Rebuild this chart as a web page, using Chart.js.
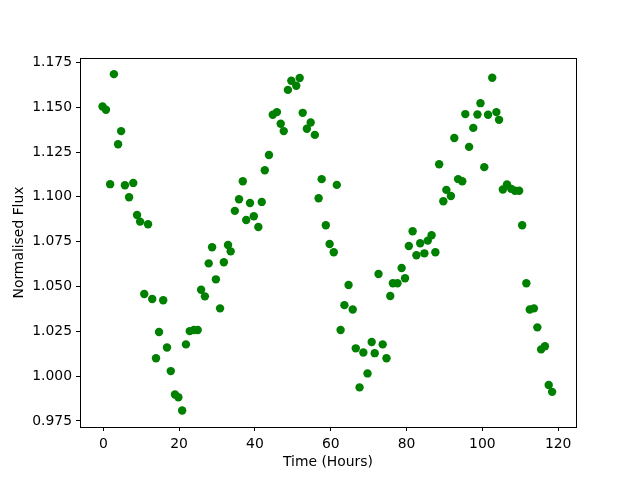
<!DOCTYPE html>
<html>
<head>
<meta charset="utf-8">
<script src="https://cdn.jsdelivr.net/npm/chart.js@4/dist/chart.umd.min.js"></script>
<style>
  html, body { margin: 0; padding: 0; background: #fff; }
  #wrap { width: 640px; height: 480px; }
</style>
</head>
<body>
<div id="wrap"><canvas id="scatter-chart" width="640" height="480"></canvas></div>
<script>
// time in hours
var hours = [-0.2,0.7,1.8,2.8,3.9,4.7,5.7,6.8,7.9,8.9,9.7,10.8,11.8,12.9,13.9,14.7,15.8,16.8,17.8,18.9,
  19.8,20.8,21.8,22.8,23.9,24.9,25.8,26.8,27.8,28.7,29.7,30.8,31.8,32.9,33.6,34.7,35.8,36.8,37.7,38.7,
  39.7,40.9,41.8,42.6,43.7,44.7,45.8,46.8,47.6,48.7,49.6,50.9,51.8,52.6,53.7,54.7,55.8,56.8,57.6,58.7,
  59.7,60.8,61.6,62.6,63.6,64.7,65.8,66.6,67.6,68.6,69.7,70.8,71.6,72.6,73.7,74.7,75.7,76.4,77.6,78.7,
  79.6,80.6,81.6,82.6,83.6,84.7,85.6,86.6,87.6,88.6,89.7,90.5,91.7,92.6,93.6,94.7,95.5,96.5,97.6,98.7,
  99.5,100.5,101.5,102.6,103.7,104.4,105.4,106.5,107.6,108.6,109.7,110.5,111.6,112.5,113.6,114.5,115.5,116.5,117.5,118.4];

// normalised flux
var flux = [1.1504,1.1486,1.1071,1.1685,1.1294,1.1367,1.1065,1.0998,1.1078,1.0899,1.0862,1.0458,1.0847,1.0430,1.0100,1.0246,1.0423,1.0160,1.0028,0.9897,
  0.9882,0.9808,1.0177,1.0251,1.0257,1.0257,1.0482,1.0445,1.0629,1.0719,1.0540,1.0378,1.0635,1.0732,1.0696,1.0922,1.0987,1.1087,1.0871,1.0966,
  1.0892,1.0832,1.0972,1.1149,1.1234,1.1458,1.1473,1.1408,1.1367,1.1597,1.1648,1.1620,1.1663,1.1469,1.1380,1.1415,1.1346,1.0992,1.1099,1.0842,
  1.0737,1.0691,1.1067,1.0257,1.0396,1.0508,1.0372,1.0155,0.9937,1.0132,1.0015,1.0190,1.0128,1.0570,1.0177,1.0100,1.0447,1.0518,1.0518,1.0603,
  1.0546,1.0726,1.0808,1.0674,1.0741,1.0685,1.0756,1.0786,1.0691,1.1182,1.0976,1.1039,1.1005,1.1329,1.1099,1.1087,1.1462,1.1279,1.1385,1.1460,
  1.1523,1.1166,1.1458,1.1665,1.1473,1.1430,1.1041,1.1070,1.1045,1.1034,1.1034,1.0842,1.0518,1.0372,1.0378,1.0272,1.0149,1.0167,0.9950,0.9912];

var xTicks = [0, 20, 40, 60, 80, 100, 120];
var yTicks = [0.975, 1.000, 1.025, 1.050, 1.075, 1.100, 1.125, 1.150, 1.175];

var points = hours.map(function (h, i) { return { x: h, y: flux[i] }; });

var fontFam = "'DejaVu Sans', sans-serif";

// box round the plot area, like matplotlib's spines
var frame = {
  id: 'frame',
  afterDraw: function (chart) {
    var a = chart.chartArea, c = chart.ctx;
    c.save();
    c.strokeStyle = '#000';
    c.lineWidth = 1;
    c.strokeRect(a.left + 0.5, a.top + 0.5, a.right - a.left, a.bottom - a.top);
    c.restore();
  }
};

var ctx = document.getElementById("scatter-chart");

var chartGraph = new Chart(ctx, {
  type: 'scatter',
  data: {
    datasets: [{
      label: "Flux",
      data: points,
      pointRadius: 4.2,
      pointHoverRadius: 4.2,
      pointBorderWidth: 0,
      backgroundColor: '#008000',
      borderColor: '#008000'
    }]
  },
  options: {
    responsive: false,
    animation: false,
    layout: { padding: { left: 0, top: 58, right: 64, bottom: 0 } },
    plugins: { legend: { display: false }, tooltip: { enabled: false } },
    scales: {
      x: {
        type: 'linear',
        min: -6.15,
        max: 124.7,
        afterBuildTicks: function (axis) { axis.ticks = xTicks.map(function (v) { return { value: v }; }); },
        afterFit: function (axis) { axis.height = 53; },
        grid: { display: true, drawOnChartArea: false, drawTicks: true, tickLength: 4, color: '#000', tickWidth: 1 },
        border: { display: false },
        ticks: { color: '#000', font: { family: fontFam, size: 13.9 }, padding: 5, maxRotation: 0 },
        title: { display: true, text: 'Time (Hours)', color: '#000', font: { family: fontFam, size: 13.9 }, padding: { top: 0, bottom: 9 } }
      },
      y: {
        type: 'linear',
        min: 0.9716,
        max: 1.1775,
        afterBuildTicks: function (axis) { axis.ticks = yTicks.map(function (v) { return { value: v }; }); },
        afterFit: function (axis) { axis.width = 80; },
        grid: { display: true, drawOnChartArea: false, drawTicks: true, tickLength: 4, color: '#000', tickWidth: 1 },
        border: { display: false },
        ticks: { color: '#000', font: { family: fontFam, size: 13.9 }, padding: 4,
          callback: function (v) { return Number(v).toFixed(3); } },
        title: { display: true, text: 'Normalised Flux', color: '#000', font: { family: fontFam, size: 13.9 }, padding: { top: 11, bottom: 0 } }
      }
    }
  },
  plugins: [frame]
});
</script>
</body>
</html>
